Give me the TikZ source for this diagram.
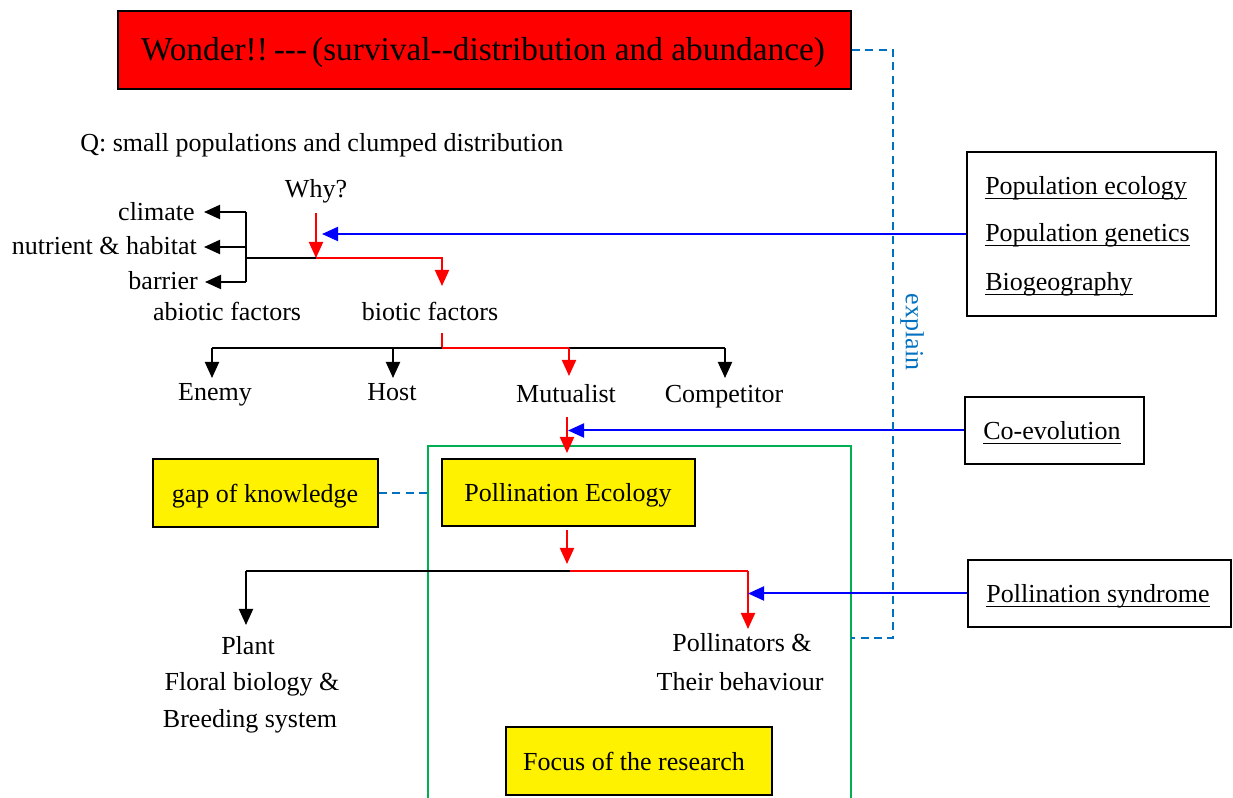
\documentclass[tikz,border=0pt]{standalone}
\usepackage{fontspec}
\setmainfont{Liberation Serif}
\usetikzlibrary{arrows.meta}
\definecolor{dblue}{HTML}{0070C0}
\definecolor{fgreen}{HTML}{00B050}
\newcommand{\uln}[1]{\setbox0\hbox{#1}\rlap{\rule[-3pt]{\wd0}{1pt}}\box0}
\begin{document}
\begin{tikzpicture}[x=0.75pt,y=-0.75pt,
  every node/.style={font=\fontsize{19.5}{23}\selectfont},
  txt/.style={inner sep=0pt,anchor=base},
  box/.style={draw=black,line width=1.5pt,inner sep=0pt},
  ybox/.style={box,fill=yellow},
  ln/.style={line width=1.5pt},
  arr/.style={ln,-{Triangle[length=12pt,width=10.5pt]}},
  rarr/.style={arr,red},
  barr/.style={arr,blue},
  bluedash/.style={dblue,line width=1.5pt,dash pattern=on 6pt off 4pt}]
\useasboundingbox (0,0) rectangle (1233,798);

% boxes
\node[box,fill=red,minimum width=549.75pt,minimum height=58.5pt] (title) at (484.5,50) {};
\node[txt,font=\fontsize{25}{30}\selectfont] (titletxt) at (483,61) {Wonder!!\hspace{0.18em}-{}-{}-\hspace{0.15em}(survival-{}-distribution and abundance)};
\node[box,minimum width=186.75pt,minimum height=123pt] (pop) at (1091.5,234) {};
\node[box,minimum width=134.25pt,minimum height=50.25pt] (coevo) at (1054.5,430.5) {};
\node[box,minimum width=197.25pt,minimum height=50.25pt] (synd) at (1099.5,593.5) {};
\draw[fgreen,line width=1.1pt] (428,805) -- (428,446) -- (851,446) -- (851,805);
\node[ybox,minimum width=189.75pt,minimum height=50.25pt] (pe) at (568.5,492.5) {};
\node[ybox,minimum width=168.75pt,minimum height=51pt] (gap) at (265.5,493) {};
\node[ybox,minimum width=199.5pt,minimum height=51pt] (focus) at (639,761) {};

% texts
\node[txt,anchor=base west] (q) at (80,152) {Q: small populations and clumped distribution};
\node[txt] (why) at (316,198) {Why?};
\node[txt,anchor=base east] (climate) at (195,221) {climate};
\node[txt,anchor=base east] (nutrient) at (197,255) {nutrient \& habitat};
\node[txt,anchor=base east] (barrier) at (198,290) {barrier};
\node[txt] (abiotic) at (227,321) {abiotic factors};
\node[txt] (biotic) at (430,321) {biotic factors};
\node[txt] (enemy) at (215,401) {Enemy};
\node[txt] (host) at (392,401) {Host};
\node[txt] (mutualist) at (566,403) {Mutualist};
\node[txt] (competitor) at (724,403) {Competitor};
\node[txt,anchor=base west] (popeco) at (985,195) {\uln{Population ecology}};
\node[txt,anchor=base west] (popgen) at (985,242) {\uln{Population genetics}};
\node[txt,anchor=base west] (biogeo) at (985,291) {\uln{Biogeography}};
\node[txt] (coevotxt) at (1052,440) {\uln{Co-evolution}};
\node[txt] (petxt) at (568,502) {Pollination Ecology};
\node[txt] (gaptxt) at (265,503) {gap of knowledge};
\node[txt] (syndtxt) at (1098,603) {\uln{Pollination syndrome}};
\node[txt] (plant1) at (248,655) {Plant};
\node[txt] (plant2) at (252,691) {Floral biology \&};
\node[txt] (plant3) at (250,727) {Breeding system};
\node[txt] (poll1) at (742,652) {Pollinators \&};
\node[txt] (poll2) at (740,691) {Their behaviour};
\node[txt] (focustxt) at (634,770) {Focus of the research};
\node[inner sep=0pt,rotate=-90,text=dblue] (explain) at (912,332) {explain};

% coordinates
\coordinate (wtop) at (316,213);
\coordinate (j1) at (316,258);
\coordinate (jb) at (246,258);
\coordinate (bt) at (246,212);
\coordinate (bm) at (246,247);
\coordinate (bb) at (246,282);
\coordinate (climtip) at (204,212);
\coordinate (nuttip) at (204,247);
\coordinate (bartip) at (205,282);
\coordinate (bioarr) at (442,286);
\coordinate (whyin) at (322,234);
\coordinate (b2top) at (442,333);
\coordinate (j2) at (442,348);
\coordinate (j2l) at (212,348);
\coordinate (j2h) at (393,348);
\coordinate (j2m) at (569,348);
\coordinate (j2r) at (725,348);
\coordinate (enemytip) at (212,378);
\coordinate (hosttip) at (393,378);
\coordinate (muttip) at (569,376);
\coordinate (comptip) at (725,378);
\coordinate (m1) at (567,417);
\coordinate (petip) at (567,453);
\coordinate (coin) at (568,430.5);
\coordinate (p1) at (567,530);
\coordinate (p1tip) at (567,564);
\coordinate (j3) at (570,571);
\coordinate (j3l) at (246,571);
\coordinate (j3r) at (748,571);
\coordinate (planttip) at (246,625);
\coordinate (polltip) at (748,629);
\coordinate (syin) at (748,593.5);
\coordinate (d1) at (893,50);
\coordinate (d2) at (893,638);
\coordinate (d3) at (851,638);
\coordinate (g1) at (428,493);

% abiotic / biotic
\draw[rarr] (wtop) -- (j1);
\draw[ln] (bt) -- (bb);
\draw[arr] (bt) -- (climtip);
\draw[arr] (bm) -- (nuttip);
\draw[arr] (bb) -- (bartip);
\draw[ln] (jb) -- (j1);
\draw[rarr] (j1) -| (bioarr);
\draw[barr] (pop.west) -- (whyin);

% biotic split
\draw[ln,red] (b2top) -- (j2);
\draw[ln] (j2l) -- (j2);
\draw[ln,red] (j2) -- (j2m);
\draw[ln] (j2m) -- (j2r);
\draw[arr] (j2l) -- (enemytip);
\draw[arr] (j2h) -- (hosttip);
\draw[rarr] (j2m) -- (muttip);
\draw[arr] (j2r) -- (comptip);

% pollination
\draw[rarr] (m1) -- (petip);
\draw[barr] (coevo.west) -- (coin);
\draw[rarr] (p1) -- (p1tip);
\draw[ln] (j3l) -- (j3);
\draw[ln,red] (j3) -- (j3r);
\draw[arr] (j3l) -- (planttip);
\draw[rarr] (j3r) -- (polltip);
\draw[barr] (synd.west) -- (syin);

% dashed
\draw[bluedash] (title.east) -- (d1) -- (d2) -- (d3);
\draw[bluedash] (gap.east) -- (g1);
\end{tikzpicture}
\end{document}
